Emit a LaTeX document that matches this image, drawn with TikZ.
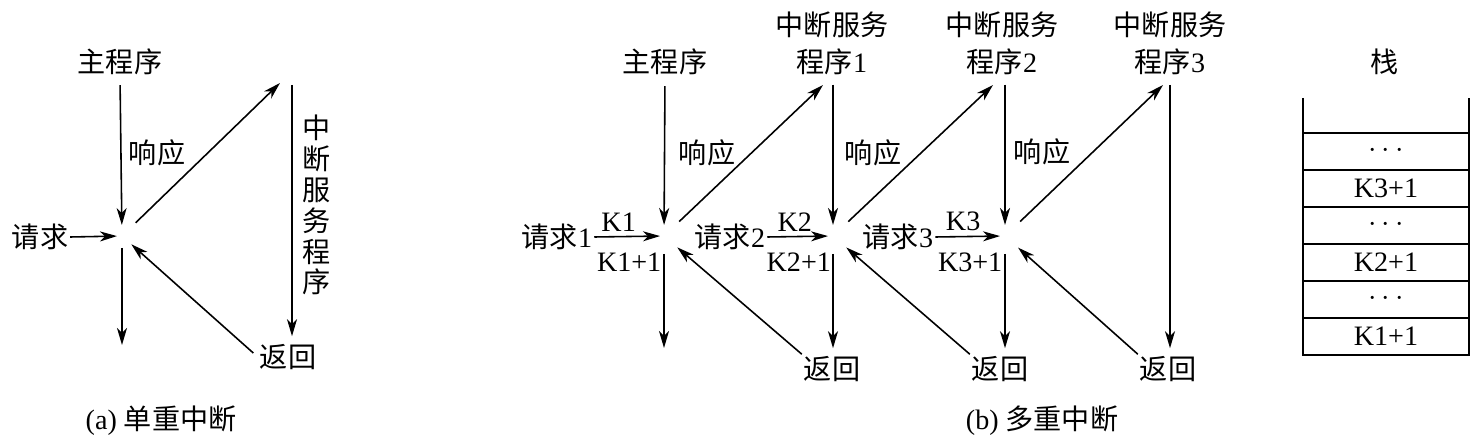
\documentclass[tikz,border=0pt]{standalone}
\usepackage{fontspec}
\setmainfont{Liberation Serif}
\newfontfamily\cjk{Noto Sans CJK SC}
\usepackage{tikz}
\usetikzlibrary{arrows.meta, calc, positioning}

\tikzset{
  lbl/.style={inner sep=1pt, font=\fontsize{16}{19}\selectfont},
  flow/.style={line width=0.9pt, -{Stealth[length=3.4mm, width=2mm, inset=1mm]}},
  stackline/.style={line width=1.1pt},
}

\begin{document}
\begin{tikzpicture}[x=0.02cm, y=-0.02cm]
  \useasboundingbox (0,0) rectangle (1483,445);

  % (a) single interrupt
  \node[lbl] (mainA) at (120,62) {\cjk 主程序};
  \coordinate (pA) at (122,236);
  \coordinate (outA) at (122,345);
  \coordinate (inA) at (280,83);
  \coordinate (isrA) at (292,85);
  \node[lbl] (reqA) at (40,237) {\cjk 请求};
  \node[lbl] (ackA) at (157,153) {\cjk 响应};
  \node[lbl, align=center, font=\fontsize{16}{17.6}\selectfont\cjk] (isrtxtA) at (317,205)
    {中\\断\\服\\务\\程\\序};
  \node[lbl] (retA) at (288,357) {\cjk 返回};
  \node[lbl] (capA) at (161,421) {(a) {\cjk 单重中断}};

  \draw[flow, shorten <=0.16cm, shorten >=0.22cm] (mainA.south) -- (pA);
  \draw[flow, shorten >=0.1cm] (reqA.east) -- (pA);
  \draw[flow, shorten <=0.24cm] (pA) -- (outA);
  \draw[flow, shorten <=0.38cm] (pA) -- (inA);
  \draw[flow, shorten >=0.12cm] (isrA) -- (isrA |- retA.north);
  \draw[flow, shorten <=0.12cm, shorten >=0.25cm] (retA.west) -- (pA);

  % (b) nested interrupts
  \node[lbl] (mainB) at (665,62) {\cjk 主程序};
  \foreach \k/\x in {1/832, 2/1002, 3/1170}
    \node[lbl, align=center, font=\fontsize{16}{21}\selectfont] (isr\k) at (\x,43)
      {{\cjk 中断服务}\\{\cjk 程序}\k};
  \coordinate (p1) at (664,236);
  \coordinate (p2) at (833,236);
  \coordinate (p3) at (1005,236);
  \coordinate (out1) at (664,348);
  \coordinate (in1) at (823,85);
  \coordinate (in2) at (993,85);
  \coordinate (in3) at (1163,85);
  \coordinate (top3) at (1170,85);
  \node[lbl] (req1) at (557,237) {{\cjk 请求}1};
  \node[lbl] (req2) at (730,237) {{\cjk 请求}2};
  \node[lbl] (req3) at (898,237) {{\cjk 请求}3};
  \node[lbl] (ackB1) at (707,153) {\cjk 响应};
  \node[lbl] (ackB2) at (873,153) {\cjk 响应};
  \node[lbl] (ackB3) at (1042,152) {\cjk 响应};
  \node[lbl] (ret1) at (832,369) {\cjk 返回};
  \node[lbl] (ret2) at (1000,369) {\cjk 返回};
  \node[lbl] (ret3) at (1168,369) {\cjk 返回};
  \node[lbl] (capB) at (1042,421) {(b) {\cjk 多重中断}};

  \draw[flow, shorten <=0.18cm, shorten >=0.22cm] (mainB.south) -- (p1);
  \draw[flow, shorten <=0.16cm, shorten >=0.22cm] (p2 |- isr1.south) -- (p2);
  \draw[flow, shorten <=0.16cm, shorten >=0.22cm] (p3 |- isr2.south) -- (p3);
  \draw[flow, shorten >=0.12cm] (top3) -- (top3 |- ret3.north);

  \draw[flow, shorten >=0.08cm] (req1.east) -- (p1)
    node[lbl, above=0.06cm, pos=0.35] (k1) {K1}
    node[lbl, below=0.28cm, pos=0.5] (k1b) {K1+1};
  \draw[flow, shorten >=0.1cm] (req2.east) -- (p2)
    node[lbl, above=0.06cm, pos=0.42] (k2) {K2}
    node[lbl, below=0.28cm, pos=0.48] (k2b) {K2+1};
  \draw[flow, shorten >=0.1cm] (req3.east) -- (p3)
    node[lbl, above=0.06cm, pos=0.4] (k3) {K3}
    node[lbl, below=0.28cm, pos=0.5] (k3b) {K3+1};

  \draw[flow, shorten <=0.36cm] (p1) -- (out1);
  \draw[flow, shorten <=0.36cm, shorten >=0.12cm] (p2) -- (p2 |- ret1.north);
  \draw[flow, shorten <=0.36cm, shorten >=0.12cm] (p3) -- (p3 |- ret2.north);

  \draw[flow, shorten <=0.42cm] (p1) -- (in1);
  \draw[flow, shorten <=0.42cm] (p2) -- (in2);
  \draw[flow, shorten <=0.42cm] (p3) -- (in3);

  \draw[flow, shorten >=0.35cm] (ret1.north west) -- (p1);
  \draw[flow, shorten >=0.35cm] (ret2.north west) -- (p2);
  \draw[flow, shorten >=0.35cm] (ret3.north west) -- (p3);

  % stack
  \node[lbl] (stk) at (1385,62) {\cjk 栈};
  \draw[stackline] (1303,98) -- (1303,355) -- (1469,355) -- (1469,98);
  \foreach \lab [count=\i] in {$\cdots$, K3+1, $\cdots$, K2+1, $\cdots$, K1+1} {
    \draw[stackline] (1303,{96+37*\i}) -- (1469,{96+37*\i});
    \node[lbl] (row\i) at (1386,{114+37*\i}) {\lab};
  }
\end{tikzpicture}
\end{document}
